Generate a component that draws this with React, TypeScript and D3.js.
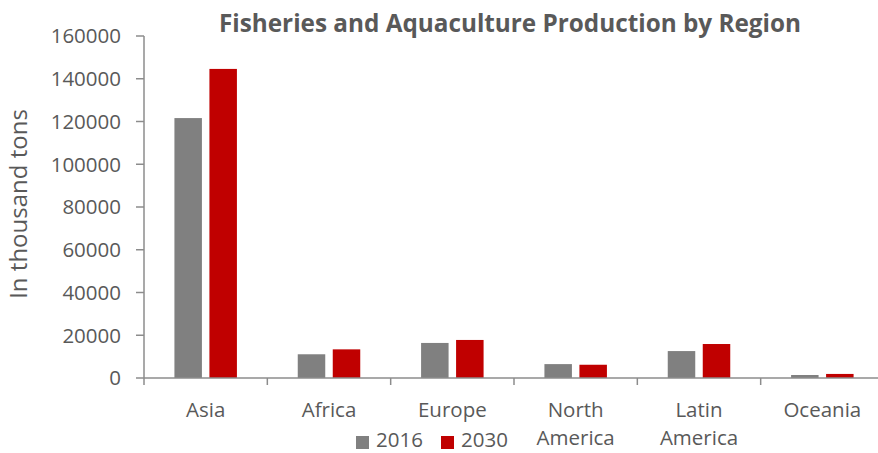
import React from "react";
import * as d3 from "d3";

const regions = ["Asia", "Africa", "Europe", "North America", "Latin America", "Oceania"];
const regionLines = [["Asia"], ["Africa"], ["Europe"], ["North", "America"], ["Latin", "America"], ["Oceania"]];
const series2016 = [121600, 11100, 16400, 6500, 12600, 1400];
const series2030 = [144600, 13400, 17800, 6200, 15900, 1900];
const seriesNames = ["2016", "2030"];
const seriesColors = ["#808080", "#C00000"];
const yTicks = [0, 20000, 40000, 60000, 80000, 100000, 120000, 140000, 160000];

const W = 878;
const H = 453;
const left = 144;
const right = 884;
const top = 36;
const bottom = 378;
const textColor = "#595959";
const axisColor = "#8c8c8c";
const font = "'Open Sans', sans-serif";

export default function App() {
  const x = d3.scaleBand<string>().domain(regions).range([left, right]).paddingInner(0).paddingOuter(0);
  const y = d3.scaleLinear().domain([0, 160000]).range([bottom, top]);
  const bw = 27.5;
  const gap = 7.5;
  const all = [series2016, series2030];
  return (
    <svg width={W} height={H} style={{ position: "absolute", left: 0, top: 0, background: "#fff" }}>
      <text x={510} y={32} textAnchor="middle" fontFamily={font} fontWeight="bold" fontSize={24.3} fill={textColor}>
        Fisheries and Aquaculture Production by Region
      </text>
      <text transform={`translate(27,204) rotate(-90)`} textAnchor="middle" fontFamily={font} fontSize={24} fill={textColor}>
        In thousand tons
      </text>
      {yTicks.map((t) => (
        <g key={t}>
          <line x1={136} x2={left} y1={y(t)} y2={y(t)} stroke={axisColor} strokeWidth={1.5} />
          <text x={121} y={y(t)} dy="0.36em" textAnchor="end" fontFamily={font} fontSize={20.5} fill={textColor}>
            {t}
          </text>
        </g>
      ))}
      {regions.map((r, i) => {
        const cx = (x(r) as number) + x.bandwidth() / 2;
        return (
          <g key={r}>
            {all.map((s, k) => {
              const bx = k === 0 ? cx - gap / 2 - bw : cx + gap / 2;
              return <rect key={k} x={bx} y={y(s[i])} width={bw} height={bottom - y(s[i])} fill={seriesColors[k]} />;
            })}
            {regionLines[i].map((ln, j) => (
              <text key={j} x={cx} y={417 + j * 28} textAnchor="middle" fontFamily={font} fontSize={20.5} fill={textColor}>
                {ln}
              </text>
            ))}
          </g>
        );
      })}
      <line x1={left} x2={left} y1={top} y2={bottom} stroke={axisColor} strokeWidth={1.5} />
      <line x1={left} x2={right} y1={bottom} y2={bottom} stroke={axisColor} strokeWidth={1.5} />
      {regions.map((r) => (
        <line key={r} x1={x(r) as number} x2={x(r) as number} y1={bottom} y2={bottom + 7} stroke={axisColor} strokeWidth={1.5} />
      ))}
      <line x1={right} x2={right} y1={bottom} y2={bottom + 7} stroke={axisColor} strokeWidth={1.5} />
      {seriesNames.map((n, k) => {
        const lx = k === 0 ? 356 : 441;
        return (
          <g key={n}>
            <rect x={lx} y={436} width={13} height={13} fill={seriesColors[k]} />
            <text x={lx + 20} y={447} fontFamily={font} fontSize={20.5} fill={textColor}>
              {n}
            </text>
          </g>
        );
      })}
    </svg>
  );
}
